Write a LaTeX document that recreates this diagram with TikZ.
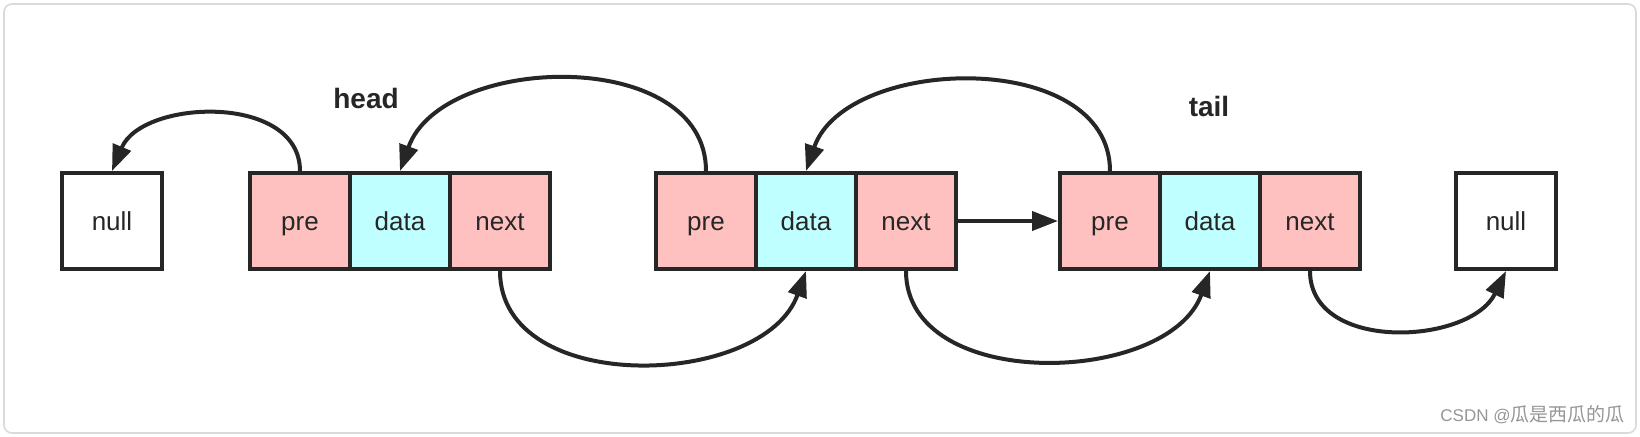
\documentclass[tikz,border=0pt]{standalone}
\usepackage{fontspec}
\setmainfont{Liberation Sans}
\newfontfamily\cjkfont{Noto Sans CJK SC}
\usetikzlibrary{arrows.meta}
\definecolor{cellpink}{RGB}{255,192,192}
\definecolor{cellcyan}{RGB}{192,255,255}
\definecolor{ink}{RGB}{38,38,38}
\definecolor{framegray}{RGB}{218,218,218}
\definecolor{markgray}{RGB}{150,150,150}
\begin{document}
\begin{tikzpicture}[x=0.5pt,y=-0.5pt,
  cell/.style={draw=ink, line width=2pt, minimum width=50pt, minimum height=48pt,
    inner sep=0pt, text height=11.4pt, text depth=2.4pt,
    font=\fontsize{13}{15}\selectfont, text=ink},
  ptrcell/.style={cell, fill=cellpink},
  datcell/.style={cell, fill=cellcyan},
  nullcell/.style={cell, fill=white},
  link/.style={draw=ink, line width=2pt, -{Triangle[length=13pt,width=9.5pt]}},
  lbl/.style={font=\bfseries\fontsize{14}{16}\selectfont, text=ink}]
\useasboundingbox (0,0) rectangle (1640,436);
\fill[white] (0,0) rectangle (1640,436);
\draw[framegray, line width=0.8pt, rounded corners=4pt] (4,4) rectangle (1636,433);

% nodes
\node[nullcell] (nullL) at (112,221) {null};
\node[ptrcell] (a-pre) at (300,221) {pre};
\node[datcell] (a-data) at (400,221) {data};
\node[ptrcell] (a-next) at (500,221) {next};
\node[ptrcell] (b-pre) at (706,221) {pre};
\node[datcell] (b-data) at (806,221) {data};
\node[ptrcell] (b-next) at (906,221) {next};
\node[ptrcell] (c-pre) at (1110,221) {pre};
\node[datcell] (c-data) at (1210,221) {data};
\node[ptrcell] (c-next) at (1310,221) {next};
\node[nullcell] (nullR) at (1506,221) {null};

\node[lbl] (head) at (366,98) {head};
\node[lbl] (tail) at (1209,106) {tail};

% links
\draw[link] (a-pre.north) .. controls +(0,-78) and +(30,-72) .. (nullL.north);
\draw[link] (b-pre.north) .. controls +(0,-125) and +(42,-118) .. (a-data.north);
\draw[link] (c-pre.north) .. controls +(0,-123) and +(40,-116) .. (b-data.north);
\draw[link] (a-next.south) .. controls +(0,126) and +(-42,118) .. (b-data.south);
\draw[link] (b-next.south) .. controls +(0,122) and +(-42,115) .. (c-data.south);
\draw[link] (c-next.south) .. controls +(0,82) and +(-36,74) .. (nullR.south);
\draw[link] (b-next.east) -- (c-pre.west);

\node[anchor=east, text=markgray, font=\fontsize{8.5}{10}\selectfont, inner sep=0pt] (mark) at (1625,415)
  {CSDN @{\cjkfont\fontsize{9.5}{10}\selectfont 瓜是西瓜的瓜}};
\end{tikzpicture}
\end{document}
